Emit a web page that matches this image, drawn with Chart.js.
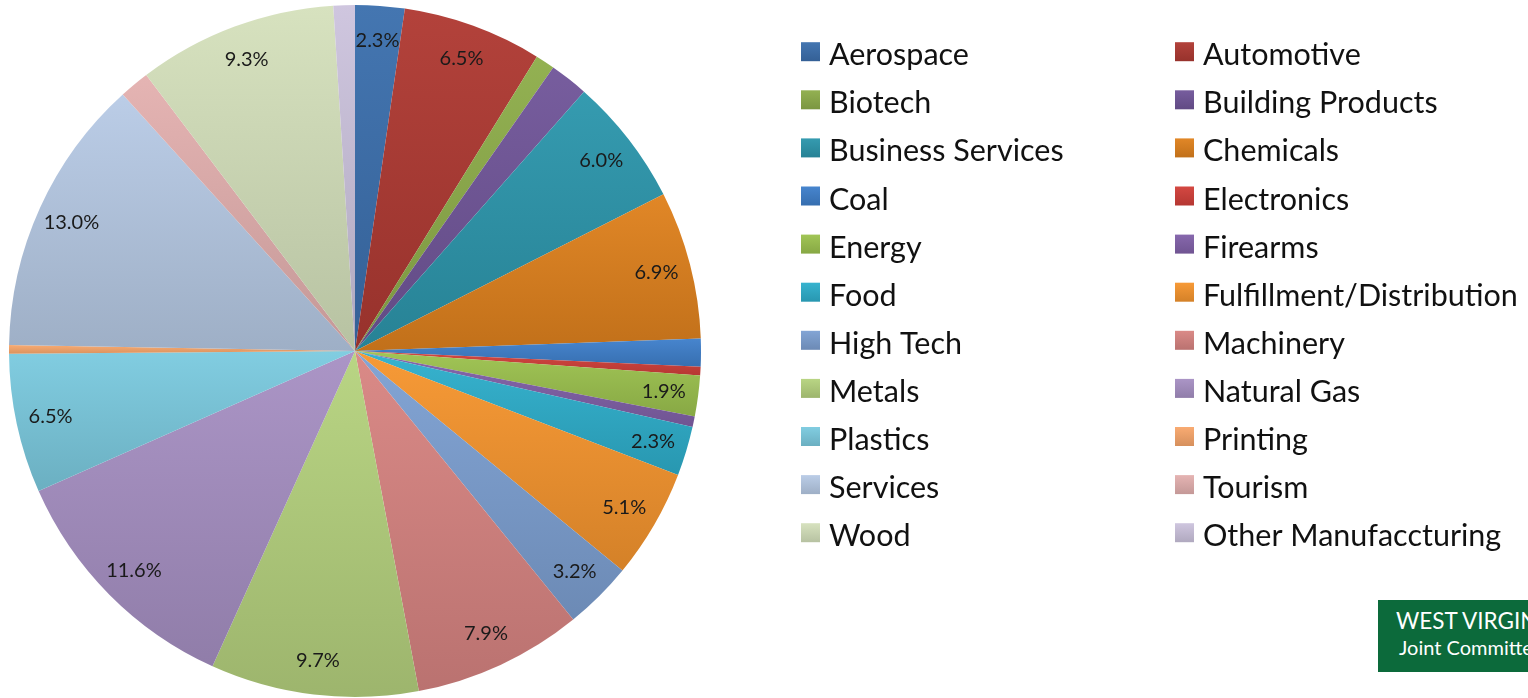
<!DOCTYPE html>
<html>
<head>
<meta charset="utf-8">
<script src="https://cdn.jsdelivr.net/npm/chart.js@4.4.1/dist/chart.umd.min.js"></script>
<style>
  html, body { margin: 0; padding: 0; background: #fff; overflow: hidden; }
  #wrap { position: relative; width: 1528px; height: 698px; }
  #badge {
    position: absolute; left: 1378px; top: 600px; width: 220px; height: 72px;
    background: #0c6a3b; color: #fff; font-family: Lato, sans-serif; white-space: nowrap;
  }
  #badge .l1 { position: absolute; left: 18px; top: 7px; font-size: 22.5px; }
  #badge .l2 { position: absolute; left: 21px; top: 35px; font-size: 20px; }
</style>
</head>
<body>
<div id="wrap">
  <canvas id="chart" width="1528" height="698"></canvas>
  <div id="badge"><span class="l1">WEST VIRGINIA</span><span class="l2">Joint Committee</span></div>
</div>
<script>
const categories = ['Aerospace', 'Automotive', 'Biotech', 'Building Products', 'Business Services', 'Chemicals',
  'Coal', 'Electronics', 'Energy', 'Firearms', 'Food', 'Fulfillment/Distribution', 'High Tech', 'Machinery',
  'Metals', 'Natural Gas', 'Plastics', 'Printing', 'Services', 'Tourism', 'Wood', 'Other Manufaccturing']
// share of total, percent
const shares = [2.3, 6.5, 0.9, 1.8, 6.0, 6.9, 1.3, 0.4, 1.9, 0.5, 2.3, 5.1, 3.2, 7.9, 9.7, 11.6, 6.5, 0.4, 13.0, 1.4, 9.3, 1.0]
const colors = ['#3c70ae', '#b03a33', '#8fae4b', '#71569a', '#2d97ad', '#e0821e', '#3f80cc', '#d2403a',
  '#9dc34f', '#8262aa', '#2fb0cd', '#f7962f', '#7ea1d3', '#d88582', '#b6d37f', '#a791c4', '#7ccbe0',
  '#f9a86c', '#b8cbe6', '#e4b1b0', '#d5e1bc', '#cdc4de']
const labelMin = 1.9

function shade(hex, amt) {
  let n = parseInt(hex.slice(1), 16)
  let r = n >> 16, g = (n >> 8) & 255, b = n & 255
  const f = c => Math.round(amt >= 0 ? c + (255 - c) * amt : c * (1 + amt))
  return 'rgb(' + f(r) + ',' + f(g) + ',' + f(b) + ')'
}

// excel-like top-to-bottom gradient inside each slice
function sliceFill(ctx) {
  const chart = ctx.chart
  const area = chart.chartArea
  const i = ctx.dataIndex
  if (!area || i === undefined) return colors[i]
  const data = ctx.dataset.data
  const total = data.reduce((a, b) => a + b, 0)
  let before = 0
  for (let k = 0; k < i; k++) before += data[k]
  const a0 = -Math.PI / 2 + before / total * Math.PI * 2
  const a1 = a0 + data[i] / total * Math.PI * 2
  const cx = (area.left + area.right) / 2
  const cy = (area.top + area.bottom) / 2
  const r = Math.min(area.right - area.left, area.bottom - area.top) / 2
  const ys = [cy, cy + r * Math.sin(a0), cy + r * Math.sin(a1)]
  ;[-Math.PI / 2, Math.PI / 2, Math.PI * 1.5].forEach(a => {
    if (a > a0 && a < a1) ys.push(cy + r * Math.sin(a))
  })
  const g = chart.ctx.createLinearGradient(0, Math.min(...ys), 0, Math.max(...ys) + 1)
  g.addColorStop(0, shade(colors[i], 0.04))
  g.addColorStop(1, shade(colors[i], -0.14))
  return g
}

const pctLabels = {
  id: 'pctLabels',
  afterDatasetsDraw(chart) {
    const ctx = chart.ctx
    const meta = chart.getDatasetMeta(0)
    ctx.save()
    ctx.font = '20px Lato'
    ctx.fillStyle = '#1a1a1a'
    ctx.textAlign = 'center'
    ctx.textBaseline = 'middle'
    meta.data.forEach((arc, i) => {
      if (shares[i] < labelMin) return
      const p = arc.getProps(['x', 'y', 'startAngle', 'endAngle', 'outerRadius'], true)
      const mid = (p.startAngle + p.endAngle) / 2
      const rr = p.outerRadius * 0.9
      ctx.fillText(shares[i].toFixed(1) + '%', p.x + Math.cos(mid) * rr, p.y + Math.sin(mid) * rr)
    })
    ctx.restore()
  }
}

// two-column legend, filled row by row
const sideLegend = {
  id: 'sideLegend',
  afterDraw(chart) {
    const ctx = chart.ctx
    const colX = [801, 1175]
    const box = 19
    ctx.save()
    ctx.font = '30.5px Lato'
    ctx.textBaseline = 'alphabetic'
    categories.forEach((name, i) => {
      const col = i % 2
      const row = Math.floor(i / 2)
      const cy = 51.7 + row * 48.1
      const x = colX[col]
      const g = ctx.createLinearGradient(0, cy - box / 2, 0, cy + box / 2)
      g.addColorStop(0, shade(colors[i], 0.04))
      g.addColorStop(1, shade(colors[i], -0.14))
      ctx.fillStyle = g
      ctx.fillRect(x, cy - box / 2, box, box)
      ctx.fillStyle = '#111'
      ctx.fillText(name, x + 28, cy + 13.5)
    })
    ctx.restore()
  }
}

new Chart(document.getElementById('chart'), {
  type: 'pie',
  data: {
    labels: categories,
    datasets: [{
      data: shares,
      backgroundColor: sliceFill,
      borderWidth: 0
    }]
  },
  options: {
    responsive: false,
    animation: false,
    layout: { padding: { left: 9, top: 5, bottom: 1, right: 827 } },
    plugins: {
      legend: { display: false },
      tooltip: { enabled: false }
    }
  },
  plugins: [pctLabels, sideLegend]
})
</script>
</body>
</html>
